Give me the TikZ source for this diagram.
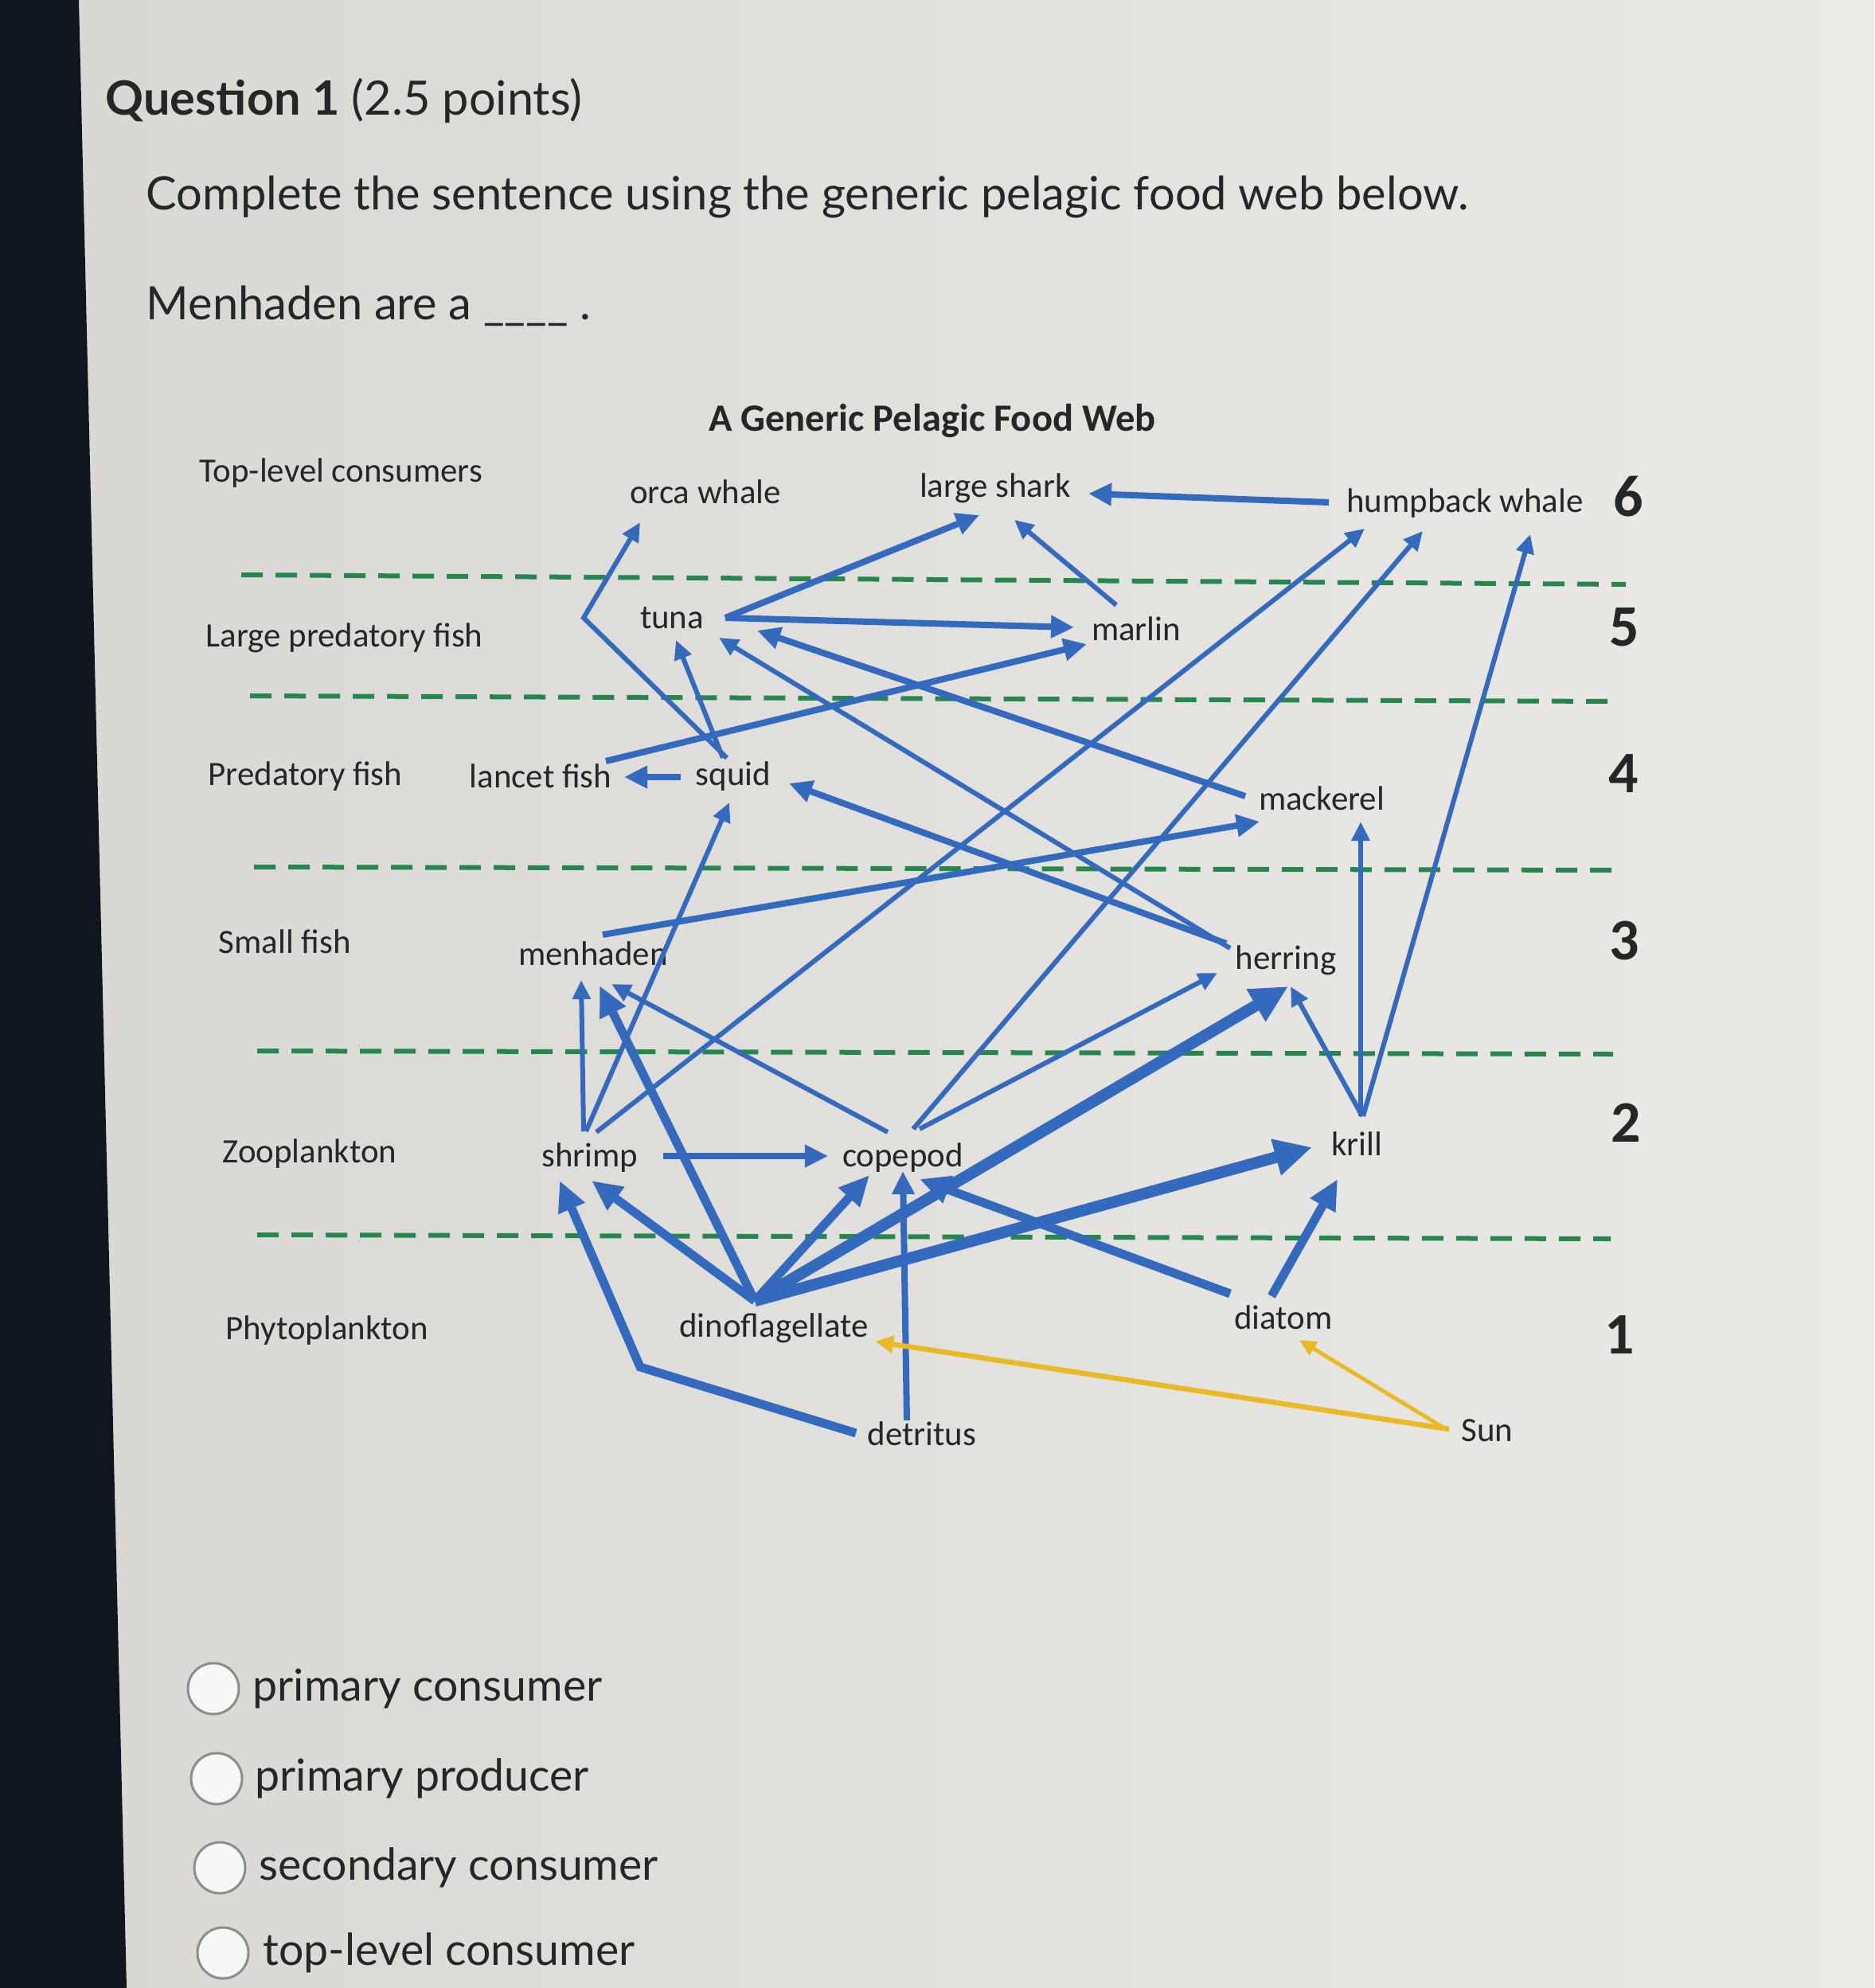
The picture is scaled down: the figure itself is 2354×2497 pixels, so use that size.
\documentclass[tikz,border=0pt]{standalone}
\usepackage{fontspec}
\setmainfont{Carlito}
\newfontfamily\latofont{Lato}
\usetikzlibrary{arrows.meta,calc}
\definecolor{bgL}{RGB}{216,215,211}
\definecolor{bgR}{RGB}{235,234,231}
\definecolor{stripc}{RGB}{16,22,30}
\definecolor{webblue}{RGB}{52,106,190}
\definecolor{sunyellow}{RGB}{232,186,40}
\definecolor{lvlgreen}{RGB}{38,134,78}
\definecolor{ink}{RGB}{38,38,38}
\definecolor{radio}{RGB}{140,140,140}
\tikzset{
  lbl/.style={font=\fontsize{12.2}{14}\selectfont, text=ink, inner sep=0pt},
  rowlbl/.style={lbl, anchor=west},
  lvl/.style={font=\bfseries\fontsize{21}{24}\selectfont, text=ink, inner sep=0pt},
  qtext/.style={font=\latofont\fontsize{16.43}{20}\selectfont, text=ink, anchor=west, inner sep=0pt},
  opttext/.style={font=\latofont\fontsize{15.75}{20}\selectfont, text=ink, anchor=west, inner sep=0pt},
  radiobtn/.style={draw=radio, fill=white!60!bgR, line width=0.03cm},
  levelline/.style={draw=lvlgreen, line width=0.06cm, dash pattern=on 0.27cm off 0.16cm},
  feed/.style={draw=webblue, line width=0.06cm, line join=miter, -{Triangle[length=0.24cm,width=0.22cm]}},
  feedM/.style={draw=webblue, line width=0.08cm, line join=miter, -{Triangle[length=0.29cm,width=0.27cm]}},
  feedT/.style={draw=webblue, line width=0.11cm, line join=miter, -{Triangle[length=0.38cm,width=0.34cm]}},
  feedX/.style={draw=webblue, line width=0.145cm, line join=miter, -{Triangle[length=0.47cm,width=0.44cm]}},
  sunM/.style={draw=sunyellow, line width=0.065cm, -{Triangle[length=0.23cm,width=0.21cm]}},
  sunT/.style={draw=sunyellow, line width=0.05cm, -{Triangle[length=0.21cm,width=0.19cm]}},
}
\begin{document}
\begin{tikzpicture}[x=0.01cm,y=-0.01cm]
\useasboundingbox (0,0) rectangle (2354,2497);
% page background (photo of a screen)
\shade[left color=bgL, right color=bgR] (0,0) rectangle (2354,2497);
\fill[stripc] (0,0) -- (99,0) -- (159,2497) -- (0,2497) -- cycle;

% question text
\node[qtext, font=\latofont\fontsize{16.9}{21}\selectfont] (qhead) at (132,127) {{\bfseries Question 1} (2.5 points)};
\node[qtext] (qsent) at (183,247) {Complete the sentence using the generic pelagic food web below.};
\node[qtext] (qmen) at (183,384) {Menhaden are a \_\_\_\_ .};

% title
\node[font=\bfseries\fontsize{13.8}{16}\selectfont, text=ink, inner sep=0pt] (title) at (1171,529) {A Generic Pelagic Food Web};

% level lines
\draw[levelline] (303,722) -- (2042,734);
\draw[levelline] (314,874) -- (2031,881);
\draw[levelline] (319,1089) -- (2028,1093);
\draw[levelline] (323,1320) -- (2026,1324);
\draw[levelline] (323,1551) -- (2023,1556);

% row labels
\node[rowlbl] (r6) at (250,594) {Top-level consumers};
\node[rowlbl] (r5) at (258,801) {Large predatory fish};
\node[rowlbl] (r4) at (261,975) {Predatory fish};
\node[rowlbl] (r3) at (274,1183) {Small fish};
\node[rowlbl] (r2) at (279,1449) {Zooplankton};
\node[rowlbl] (r1) at (283,1671) {Phytoplankton};

% level numbers
\node[lvl] (n6) at (2045,624) {6};
\node[lvl] (n5) at (2040,788) {5};
\node[lvl] (n4) at (2039,972) {4};
\node[lvl] (n3) at (2040,1182) {3};
\node[lvl] (n2) at (2042,1410) {2};
\node[lvl] (n1) at (2034,1677) {1};

% species
\node[lbl] (orca) at (886,618) {orca whale};
\node[lbl] (shark) at (1250,613) {large shark};
\node[lbl] (humpback) at (1840,632) {humpback whale};
\node[lbl] (tuna) at (844,776) {tuna};
\node[lbl] (marlin) at (1427,790) {marlin};
\node[lbl] (lancet) at (679,975) {lancet fish};
\node[lbl] (squid) at (921,975) {squid};
\node[lbl] (mackerel) at (1660,1003) {mackerel};
\node[lbl] (menhaden) at (745,1198) {menhaden};
\node[lbl] (herring) at (1615,1206) {herring};
\node[lbl] (shrimp) at (741,1454) {shrimp};
\node[lbl] (copepod) at (1134,1454) {copepod};
\node[lbl] (krill) at (1704,1437) {krill};
\node[lbl] (dino) at (972,1668) {dinoflagellate};
\node[lbl] (diatom) at (1612,1655) {diatom};
\node[lbl] (detritus) at (1158,1801) {detritus};
\node[lbl] (sun) at (1868,1797) {Sun};

\coordinate (orcakink) at (733,776);
\coordinate (detkink) at (804,1717);
\coordinate (dinotop) at ($(dino)+(-24,-34)$);

% feeding links
\draw[feedM] ($(humpback)+(-171,-1)$) -- ($(shark)+(117,7)$);
\draw[feedM] ($(tuna)+(67,0)$) -- ($(shark)+(-20,34)$);
\draw[feed] ($(marlin)+(-25,-30)$) -- ($(shark)+(24,40)$);
\draw[feedM] ($(tuna)+(67,0)$) -- ($(marlin)+(-78,-2)$);
\draw[feed] ($(squid)+(-8,-23)$) -- (orcakink) -- ($(orca)+(-82,38)$);
\draw[feed] ($(squid)+(-13,-23)$) -- ($(tuna)+(5,28)$);
\draw[feedM] ($(lancet)+(82,-19)$) -- ($(marlin)+(-62,19)$);
\draw[feedM] ($(squid)+(-66,1)$) -- ($(lancet)+(105,1)$);
\draw[feed] ($(herring)+(-70,-15)$) -- ($(tuna)+(59,25)$);
\draw[feedM] ($(mackerel)+(-96,-3)$) -- ($(tuna)+(107,16)$);
\draw[feedM] ($(herring)+(-75,-21)$) -- ($(squid)+(70,9)$);
\draw[feed] ($(shrimp)+(-5,-33)$) -- ($(squid)+(-5,33)$);
\draw[feedM] ($(menhaden)+(12,-24)$) -- ($(mackerel)+(-78,29)$);
\draw[feed] ($(shrimp)+(8,-32)$) -- ($(humpback)+(-126,32)$);
\draw[feed] ($(copepod)+(13,-36)$) -- ($(humpback)+(-53,35)$);
\draw[feed] ($(krill)+(8,-35)$) -- ($(humpback)+(82,39)$);
\draw[feed] ($(krill)+(5,-35)$) -- ($(mackerel)+(49,29)$);
\draw[feed] ($(krill)+(7,-35)$) -- ($(herring)+(6,33)$);
\draw[feed] ($(copepod)+(21,-36)$) -- ($(herring)+(-86,16)$);
\draw[feedX] (dinotop) -- ($(herring)+(3,33)$);
\draw[feedX] (dinotop) -- ($(krill)+(-56,4)$);
\draw[feedT] (dinotop) -- ($(copepod)+(-42,22)$);
\draw[feedT] (dinotop) -- ($(shrimp)+(2,29)$);
\draw[feedT] (dinotop) -- ($(menhaden)+(8,40)$);
\draw[feed] ($(shrimp)+(-8,-33)$) -- ($(menhaden)+(-15,33)$);
\draw[feed] ($(copepod)+(-19,-32)$) -- ($(menhaden)+(23,38)$);
\draw[feedM] ($(shrimp)+(92,-2)$) -- ($(copepod)+(-94,-2)$);
\draw[feedT] ($(diatom)+(-67,-30)$) -- ($(copepod)+(21,27)$);
\draw[feedT] ($(diatom)+(-15,-27)$) -- ($(krill)+(-24,44)$);
\draw[feedM] ($(detritus)+(-19,-17)$) -- ($(copepod)+(0,17)$);
\draw[feedT] ($(detritus)+(-83,-1)$) -- (detkink) -- ($(shrimp)+(-38,29)$);
\draw[sunM] ($(sun)+(-48,-2)$) -- ($(dino)+(127,17)$);
\draw[sunT] ($(sun)+(-52,-2)$) -- ($(diatom)+(20,28)$);

% answer options
\draw[radiobtn] (268,2121) circle (32);
\node[opttext] (o1) at (317,2121) {primary consumer};
\draw[radiobtn] (272,2234) circle (32);
\node[opttext] (o2) at (320,2234) {primary producer};
\draw[radiobtn] (276,2346) circle (32);
\node[opttext] (o3) at (325,2346) {secondary consumer};
\draw[radiobtn] (280,2453) circle (32);
\node[opttext] (o4) at (330,2453) {top-level consumer};
\end{tikzpicture}
\end{document}
